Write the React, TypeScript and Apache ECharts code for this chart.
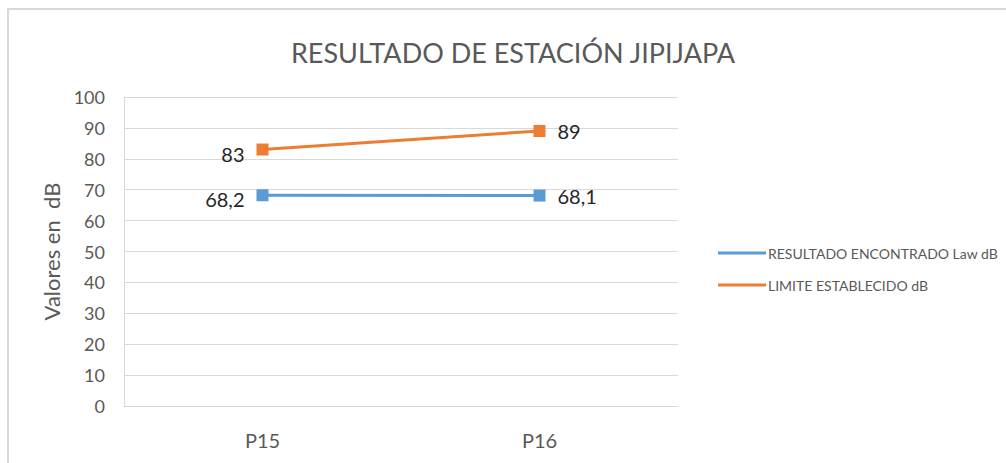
import React, { useEffect, useRef } from "react";
import * as echarts from "echarts";

const categories = ["P15", "P16"];
const resultadoValues = [68.2, 68.1];
const limiteValues = [83, 89];
const seriesNames = ["RESULTADO ENCONTRADO Law dB", "LIMITE ESTABLECIDO dB"];
const titleText = "RESULTADO DE ESTACIÓN JIPIJAPA";
const yAxisName = "Valores en  dB";

const FONT = "Lato, 'Open Sans', sans-serif";

export default function App() {
  const ref = useRef<HTMLDivElement>(null);
  useEffect(() => {
    document.body.style.margin = "0";
    const chart = echarts.init(ref.current!, null, { renderer: "svg" });
    const labelFmt = (p: any) => String(p.value).replace(".", ",");
    const mkSeries = (name: string, data: number[], color: string) => ({
      name,
      type: "line",
      symbol: "rect",
      symbolSize: 12,
      lineStyle: { width: 3, color },
      itemStyle: { color },
      label: {
        show: true,
        fontSize: 20,
        color: "#262626",
        fontFamily: FONT,
        formatter: labelFmt,
        distance: 12,
      },
      data: data.map((v, i) => ({
        value: v,
        label: {
          position: i === 0 ? "left" : "right",
          offset: i === 0 ? [0, 4] : [0, 0],
        },
      })),
    });
    chart.setOption({
      animation: false,
      backgroundColor: "#ffffff",
      title: {
        text: titleText,
        left: 508,
        textAlign: "center",
        top: 34,
        textStyle: {
          fontSize: 27,
          fontWeight: "normal",
          color: "#595959",
          fontFamily: FONT,
        },
      },
      grid: { left: 124, right: 328, top: 97, bottom: 57 },
      legend: {
        orient: "vertical",
        left: 713,
        top: 241,
        itemGap: 18,
        itemWidth: 48,
        itemHeight: 3,
        icon: "rect",
        textStyle: { fontSize: 14, color: "#595959", fontFamily: FONT, padding: [0, 0, 0, -3] },
        data: seriesNames.map((n) => ({ name: n, icon: "rect" })),
      },
      xAxis: {
        type: "category",
        data: categories,
        boundaryGap: true,
        axisLine: { show: true, lineStyle: { color: "#d9d9d9", width: 1 } },
        axisTick: { show: false },
        axisLabel: {
          fontSize: 20,
          color: "#595959",
          fontFamily: FONT,
          margin: 24,
        },
      },
      yAxis: {
        type: "value",
        min: 0,
        max: 100,
        interval: 10,
        name: yAxisName,
        nameLocation: "middle",
        nameRotate: 90,
        nameGap: 62,
        nameTextStyle: { fontSize: 22, color: "#595959", fontFamily: FONT },
        axisLine: { show: true, lineStyle: { color: "#d9d9d9", width: 1 } },
        axisTick: { show: false },
        splitLine: { lineStyle: { color: "#d9d9d9", width: 1 } },
        axisLabel: {
          fontSize: 18,
          color: "#595959",
          fontFamily: FONT,
          margin: 19,
        },
      },
      series: [
        mkSeries(seriesNames[0], resultadoValues, "#5B9BD5"),
        mkSeries(seriesNames[1], limiteValues, "#ED7D31"),
      ],
      graphic: [
        {
          type: "line",
          shape: { x1: 8, y1: 9, x2: 1006, y2: 9 },
          style: { stroke: "#d9d9d9", lineWidth: 2 },
        },
        {
          type: "line",
          shape: { x1: 8, y1: 8, x2: 8, y2: 463 },
          style: { stroke: "#d9d9d9", lineWidth: 2 },
        },
      ],
    });
    return () => chart.dispose();
  }, []);
  return <div ref={ref} style={{ width: 1006, height: 463 }} />;
}
